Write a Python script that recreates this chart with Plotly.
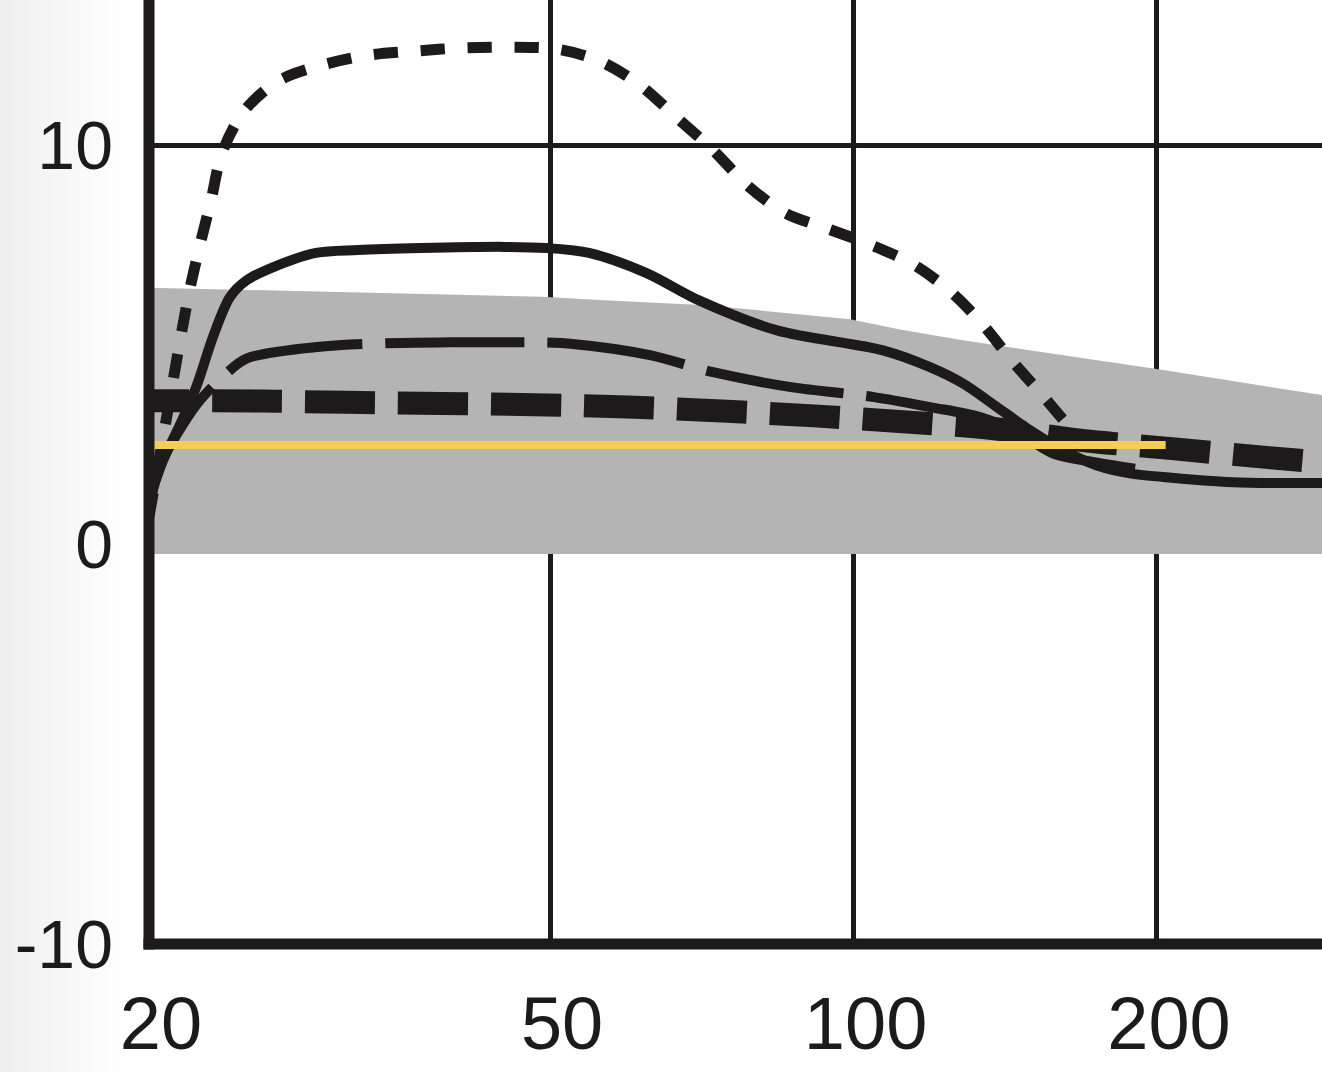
import math
import plotly.graph_objects as go

# frequency (Hz) / level (dB)
band_freq = [20, 49.1, 56.0, 71.4, 99.2, 111.2, 128.4, 201.4, 291.6]
band_top = [6.43, 6.2, 6.12, 5.99, 5.64, 5.38, 5.11, 4.38, 3.74]
band_bottom = [-0.24] * len(band_freq)

solid_freq = [20, 20.65, 21.47, 22.32, 23.15, 24.07, 25.02, 26.61, 29.29, 32.24,
              37.23, 45.10, 49.64, 54.64, 62.24, 70.25, 83.96, 106.96, 119.08,
              128.41, 138.78, 149.64, 161.36, 174.39, 188.05, 202.77, 237.93, 291.56]
solid_db = [1.1, 2.1, 3.0, 4.0, 5.2, 6.2, 6.62, 6.95, 7.3, 7.37,
            7.42, 7.45, 7.42, 7.3, 6.8, 6.11, 5.36, 4.86, 4.44,
            4.03, 3.44, 2.86, 2.36, 1.98, 1.78, 1.69, 1.56, 1.54]

longdash_freq = [20, 20.51, 21.13, 22.32, 23.90, 25.02, 29.56, 34.37, 39.78, 48.86,
                 52.68, 62.81, 72.37, 86.69, 104.78, 119.08, 133.49, 146.26, 157.36,
                 174.39, 190.21]
longdash_db = [0.9, 2.0, 2.6, 3.52, 4.3, 4.66, 4.95, 5.04, 5.06, 5.06,
               5.02, 4.74, 4.32, 3.94, 3.69, 3.44, 3.19, 2.78, 2.29,
               2.05, 1.9]

thick_freq = [20, 25.95, 31.37, 48.19, 59.73, 74.04, 91.36, 109.18, 136.58,
              167.75, 206.98, 256.56, 291.56]
thick_db = [3.6, 3.59, 3.56, 3.5, 3.44, 3.34, 3.22, 3.09, 2.91,
            2.61, 2.4, 2.18, 2.06]

dotted_freq = [20, 20.74, 21.13, 21.52, 21.96, 22.47, 23.04, 23.63, 24.85, 26.85,
               29.69, 33.06, 36.72, 40.79, 45.52, 50.79, 56.03, 61.39, 66.66, 72.37,
               78.39, 85.50, 94.33, 104.07, 114.81, 125.22, 134.41, 143.62, 153.80,
               163.21, 169.68]
dotted_db = [0.7, 2.94, 4.1, 5.24, 6.4, 7.5, 8.6, 9.8, 10.85, 11.6,
             12.0, 12.25, 12.35, 12.43, 12.45, 12.4, 12.1, 11.5, 10.7, 9.9,
             9.0, 8.3, 7.9, 7.5, 7.0, 6.3, 5.5, 4.6, 3.75,
             3.0, 2.65]

target_freq = [20, 204]
target_db = [2.49, 2.49]

x_ticks = [20, 50, 100, 200]
y_ticks = [-10, 0, 10]
y_labels = ['-10', '0', '10']

INK = '#1c1a1b'
BAND = '#b4b4b4'
GOLD = '#f5d04f'
FONT = 'Liberation Sans, Arial, sans-serif'

fig = go.Figure()

fig.add_trace(go.Scatter(
    x=band_freq + band_freq[::-1], y=band_top + band_bottom[::-1],
    fill='toself', fillcolor=BAND, line=dict(width=0), mode='lines',
    hoverinfo='skip'))

thick_dash = '40px,23px,' + ','.join(['70px,23px'] * 16)
fig.add_trace(go.Scatter(x=thick_freq, y=thick_db, mode='lines',
                         line=dict(color=INK, width=23, dash=thick_dash, shape='spline', smoothing=0.9)))
fig.add_trace(go.Scatter(x=longdash_freq, y=longdash_db, mode='lines',
                         line=dict(color=INK, width=10, dash='139px,23px', shape='spline', smoothing=0.9)))
fig.add_trace(go.Scatter(x=solid_freq, y=solid_db, mode='lines',
                         line=dict(color=INK, width=10, shape='spline', smoothing=0.9)))
fig.add_trace(go.Scatter(x=dotted_freq, y=dotted_db, mode='lines',
                         line=dict(color=INK, width=11, dash='24px,23px', shape='spline', smoothing=0.9)))
fig.add_trace(go.Scatter(x=target_freq, y=target_db, mode='lines',
                         line=dict(color=GOLD, width=8)))

W, H = 1322, 1072
L, B = 149, 128
pw, ph = W - L, H - B

# faint shadow along the left edge of the scan
shapes = []
for i in range(12):
    g = 240 + int(15 * i / 12)
    shapes.append(dict(type='rect', xref='paper', yref='paper',
                       x0=(i * 10 - L) / pw, x1=((i + 1) * 10 - L) / pw,
                       y0=-B / ph, y1=1, line=dict(width=0),
                       fillcolor=f'rgb({g},{g},{g})', layer='below'))
# heavy axis lines
shapes.append(dict(type='line', xref='paper', yref='paper', x0=0, x1=0,
                   y0=-5.5 / ph, y1=1, line=dict(color=INK, width=11)))
shapes.append(dict(type='line', xref='paper', yref='paper', x0=-5.5 / pw, x1=1,
                   y0=0, y1=0, line=dict(color=INK, width=11)))

fig.update_layout(
    width=W, height=H,
    margin=dict(l=L, r=0, t=0, b=B, pad=0),
    paper_bgcolor='white', plot_bgcolor='white',
    showlegend=False,
    shapes=shapes,
    xaxis=dict(type='log', range=[math.log10(20), math.log10(291.56)],
               tickvals=x_ticks, ticktext=[str(v) for v in x_ticks],
               showgrid=True, gridcolor=INK, gridwidth=5,
               showline=False, zeroline=False, ticks='', automargin=False,
               tickfont=dict(family=FONT, size=74, color=INK),
               ticklabelshift=12, ticklabelstandoff=30),
    yaxis=dict(range=[-10, 13.63], tickvals=y_ticks, ticktext=y_labels,
               showgrid=True, gridcolor=INK, gridwidth=5,
               showline=False, zeroline=False, ticks='', automargin=False,
               tickfont=dict(family=FONT, size=68, color=INK),
               ticklabelstandoff=35),
)

fig.write_html("out.html", config={'displayModeBar': False},
               post_script="document.body.style.margin='0';")
